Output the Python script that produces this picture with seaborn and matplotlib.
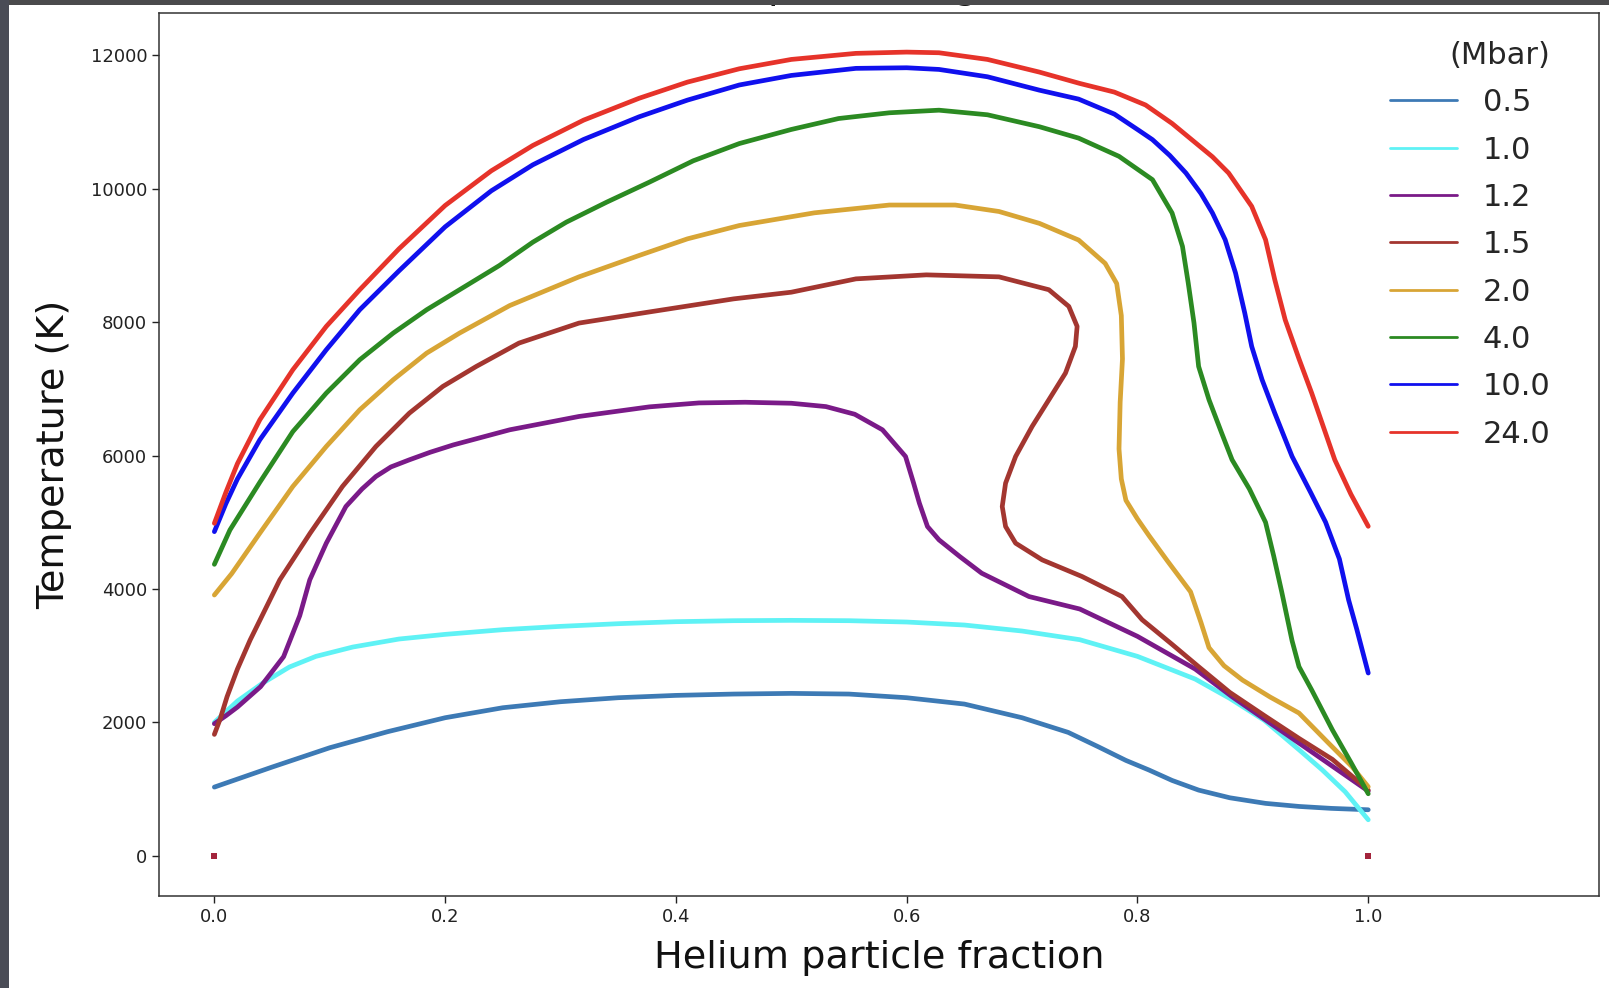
import numpy as np
import pandas as pd
import matplotlib
matplotlib.use("Agg")
import matplotlib.pyplot as plt
from matplotlib.lines import Line2D
from matplotlib.patches import Rectangle
import seaborn as sns

# ---------------- data ----------------
pressures = ["0.5", "1.0", "1.2", "1.5", "2.0", "4.0", "10.0", "24.0"]
colors = ["#3d7ab5", "#5ff2f5", "#7a1a88", "#a33630", "#d8a535", "#2b8a22", "#1010ee", "#e6332a"]

x_05 = [0.0, 0.05, 0.1, 0.15, 0.2, 0.25, 0.3, 0.35, 0.4, 0.45, 0.5, 0.55, 0.6, 0.65, 0.7, 0.72, 0.74, 0.766, 0.79, 0.81, 0.83, 0.853, 0.88, 0.911, 0.94, 0.968, 1.0]
T_05 = [1030, 1330, 1620, 1860, 2070, 2220, 2310, 2370, 2405, 2425, 2435, 2425, 2370, 2275, 2070, 1960, 1850, 1635, 1430, 1286, 1130, 985, 870, 786, 740, 711, 690]

x_10 = [0.0, 0.02, 0.042, 0.065, 0.088, 0.12, 0.16, 0.2, 0.25, 0.3, 0.35, 0.4, 0.45, 0.5, 0.55, 0.6, 0.65, 0.7, 0.75, 0.8, 0.85, 0.88, 0.91, 0.94, 0.96, 0.98, 1.0]
T_10 = [2000, 2320, 2590, 2830, 2990, 3130, 3250, 3320, 3390, 3440, 3480, 3510, 3525, 3530, 3525, 3505, 3460, 3370, 3240, 2990, 2650, 2360, 2030, 1590, 1290, 960, 540]

x_12 = [0.0, 0.01, 0.02, 0.04, 0.06, 0.074, 0.0827, 0.097, 0.114, 0.128, 0.14, 0.153, 0.169, 0.187, 0.207, 0.256, 0.316, 0.377, 0.42, 0.46, 0.5, 0.53, 0.555, 0.579, 0.599, 0.606, 0.611, 0.618, 0.628, 0.646, 0.665, 0.706, 0.75, 0.8, 0.85, 0.882, 0.94, 1.0]
T_12 = [1980, 2100, 2230, 2535, 2985, 3600, 4137, 4687, 5237, 5500, 5687, 5830, 5937, 6050, 6160, 6387, 6587, 6731, 6790, 6800, 6785, 6735, 6620, 6387, 5987, 5587, 5287, 4937, 4737, 4487, 4237, 3887, 3700, 3290, 2800, 2385, 1690, 970]

x_15 = [0.0, 0.005, 0.011, 0.02, 0.031, 0.0567, 0.083, 0.111, 0.14, 0.169, 0.198, 0.227, 0.264, 0.316, 0.377, 0.45, 0.5, 0.556, 0.617, 0.68, 0.7232, 0.7405, 0.7477, 0.7462, 0.7376, 0.7232, 0.7087, 0.6944, 0.6857, 0.6828, 0.6857, 0.6944, 0.7174, 0.752, 0.7866, 0.804, 0.83, 0.853, 0.88, 0.911, 0.94, 0.969, 1.0]
T_15 = [1820, 2050, 2385, 2800, 3235, 4137, 4837, 5537, 6137, 6637, 7037, 7337, 7687, 7987, 8154, 8350, 8450, 8650, 8710, 8680, 8487, 8237, 7937, 7637, 7237, 6837, 6437, 5987, 5587, 5237, 4937, 4687, 4437, 4187, 3887, 3540, 3170, 2835, 2450, 2090, 1760, 1445, 985]

x_20 = [0.0, 0.015, 0.0394, 0.068, 0.097, 0.126, 0.155, 0.184, 0.2125, 0.256, 0.316, 0.368, 0.41, 0.455, 0.52, 0.585, 0.642, 0.68, 0.715, 0.749, 0.772, 0.782, 0.786, 0.787, 0.785, 0.784, 0.786, 0.79, 0.8, 0.81, 0.826, 0.846, 0.855, 0.862, 0.875, 0.891, 0.915, 0.94, 0.965, 0.986, 1.0]
T_20 = [3910, 4230, 4837, 5537, 6137, 6687, 7137, 7537, 7837, 8250, 8680, 9000, 9250, 9450, 9640, 9757, 9757, 9660, 9482, 9232, 8882, 8580, 8100, 7450, 6800, 6100, 5650, 5330, 5050, 4800, 4420, 3958, 3500, 3120, 2850, 2635, 2380, 2140, 1700, 1335, 1035]

x_40 = [0.0, 0.0135, 0.0394, 0.068, 0.097, 0.126, 0.155, 0.184, 0.2125, 0.247, 0.276, 0.305, 0.34, 0.377, 0.415, 0.455, 0.5, 0.541, 0.585, 0.628, 0.67, 0.715, 0.749, 0.784, 0.813, 0.83, 0.839, 0.844, 0.849, 0.853, 0.862, 0.873, 0.882, 0.897, 0.911, 0.918, 0.925, 0.934, 0.94, 0.951, 0.969, 0.985, 1.0]
T_40 = [4370, 4885, 5600, 6360, 6937, 7437, 7837, 8187, 8487, 8850, 9200, 9500, 9800, 10100, 10420, 10679, 10890, 11054, 11140, 11179, 11110, 10931, 10760, 10487, 10137, 9637, 9137, 8587, 7987, 7337, 6837, 6337, 5937, 5500, 5000, 4500, 3958, 3223, 2835, 2486, 1885, 1400, 930]

x_100 = [0.0, 0.01, 0.02, 0.0394, 0.068, 0.097, 0.126, 0.16, 0.2, 0.24, 0.276, 0.32, 0.368, 0.41, 0.455, 0.5, 0.556, 0.6, 0.628, 0.67, 0.715, 0.749, 0.78, 0.801, 0.813, 0.828, 0.842, 0.855, 0.865, 0.876, 0.885, 0.893, 0.899, 0.908, 0.919, 0.934, 0.95, 0.963, 0.975, 0.983, 0.99, 1.0]
T_100 = [4860, 5280, 5650, 6237, 6937, 7587, 8187, 8770, 9430, 9970, 10360, 10740, 11079, 11330, 11557, 11700, 11806, 11815, 11790, 11680, 11479, 11345, 11120, 10878, 10737, 10500, 10237, 9930, 9637, 9237, 8737, 8137, 7637, 7137, 6637, 5987, 5450, 5003, 4450, 3835, 3400, 2740]

x_240 = [0.0, 0.01, 0.02, 0.0394, 0.068, 0.097, 0.126, 0.16, 0.2, 0.24, 0.276, 0.32, 0.368, 0.41, 0.455, 0.5, 0.556, 0.6, 0.628, 0.67, 0.715, 0.75, 0.78, 0.807, 0.83, 0.847, 0.865, 0.879, 0.899, 0.911, 0.919, 0.928, 0.94, 0.951, 0.963, 0.971, 0.985, 1.0]
T_240 = [4985, 5450, 5880, 6537, 7287, 7937, 8487, 9100, 9750, 10270, 10650, 11030, 11357, 11600, 11800, 11940, 12031, 12050, 12040, 11940, 11750, 11580, 11450, 11257, 10980, 10737, 10480, 10237, 9737, 9237, 8637, 8037, 7450, 6937, 6337, 5937, 5420, 4940]

# isolated points at T = 0
x_zero = [0.0, 1.0]
T_zero = [0, 0]

xs = [x_05, x_10, x_12, x_15, x_20, x_40, x_100, x_240]
Ts = [T_05, T_10, T_12, T_15, T_20, T_40, T_100, T_240]

frames = []
for p, xv, tv in zip(pressures, xs, Ts):
    frames.append(pd.DataFrame({"x": xv, "T": tv, "P": p}))
df = pd.concat(frames, ignore_index=True)

# ---------------- plotting ----------------
sns.set_style("ticks")
plt.rcParams["font.family"] = ["DejaVu Sans"]

fig = plt.figure(figsize=(16.09, 9.88), dpi=100)
ax = fig.add_axes([0.0988, 0.0931, 0.8950, 0.8934])

sns.lineplot(data=df, x="x", y="T", hue="P", hue_order=pressures,
             palette=dict(zip(pressures, colors)), sort=False, estimator=None,
             linewidth=3.4, legend=False, ax=ax)
sns.scatterplot(x=x_zero, y=T_zero, marker="s", s=14, color="#a3243c",
                linewidth=0, ax=ax)

ax.set_xlim(-0.048, 1.2)
ax.set_ylim(-603, 12631)
ax.set_xticks([0.0, 0.2, 0.4, 0.6, 0.8, 1.0])
ax.set_xticklabels(["0.0", "0.2", "0.4", "0.6", "0.8", "1.0"])
ax.set_yticks([0, 2000, 4000, 6000, 8000, 10000, 12000])
ax.tick_params(axis="both", labelsize=13, length=5, width=1, colors="#222222")
for s in ax.spines.values():
    s.set_color("#333333")
    s.set_linewidth(1.1)

ax.set_xlabel("Helium particle fraction", fontsize=27.5, color="#111111", labelpad=10)
ax.set_ylabel("Temperature (K)", fontsize=27.5, color="#111111", labelpad=13)

handles = [Line2D([0], [0], color=c, lw=2) for c in colors]
leg = ax.legend(handles, pressures, title="(Mbar)", loc="upper right",
                bbox_to_anchor=(0.9855, 1.0),
                frameon=False, fontsize=22, title_fontsize=22,
                handlelength=2.2, handletextpad=0.85, labelspacing=0.6,
                alignment="right")

# title of the screenshot, cut off at the top edge (only descenders visible)
fig.text(0.5335, 1 + 2.0 / 988, "H-He phase diagram", ha="center", va="baseline",
         fontsize=27.5, color="#111111", zorder=1)

# dark screenshot border
fig.add_artist(Rectangle((0, 1 - 5.5 / 988), 1, 5.5 / 988, transform=fig.transFigure,
                         facecolor="#4a4a4c", edgecolor="none", zorder=10))
fig.add_artist(Rectangle((0, 0), 8.5 / 1609, 1, transform=fig.transFigure,
                         facecolor="#4a4c56", edgecolor="none", zorder=10))

fig.savefig("out.png", dpi=100)
